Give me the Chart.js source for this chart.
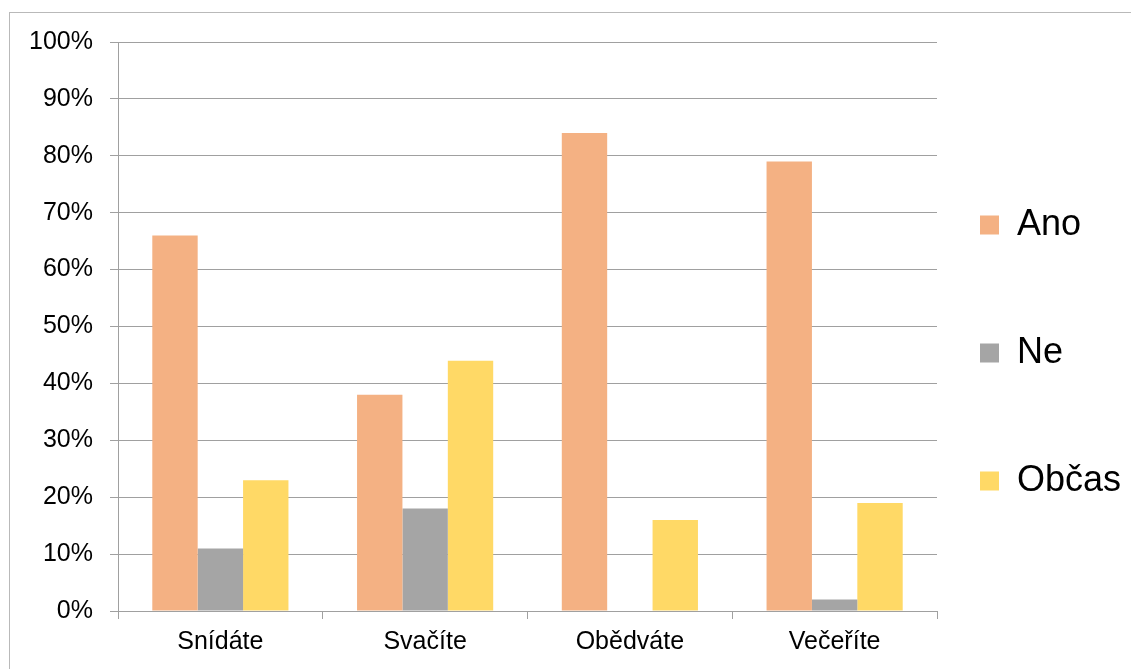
<!DOCTYPE html>
<html>
<head>
<meta charset="utf-8">
<script src="https://cdn.jsdelivr.net/npm/chart.js@4/dist/chart.umd.min.js"></script>
<style>
  html, body { margin: 0; padding: 0; background: #ffffff; overflow: hidden; }
  #wrap { position: relative; width: 1131px; height: 669px; overflow: hidden; }
  #frame { position: absolute; left: 9px; top: 12px; width: 1200px; height: 700px;
           border: 1px solid #b9b9b9; box-sizing: border-box; }
  #chart { position: absolute; left: 0; top: 0; }
</style>
</head>
<body>
<div id="wrap">
  <div id="frame"></div>
  <canvas id="chart" width="1200" height="669"></canvas>
</div>
<script>
// Survey: how often do people eat each meal (share of answers)
const categories = ['Snídáte', 'Svačíte', 'Obědváte', 'Večeříte'];
const seriesNames = ['Ano', 'Ne', 'Občas'];
const ano   = [66, 38, 84, 79];
const ne    = [11, 18, 0, 2];
const obcas = [23, 44, 16, 19];
const yTicks = [0, 10, 20, 30, 40, 50, 60, 70, 80, 90, 100];

const colors = ['#f4b183', '#a5a5a5', '#ffd966'];
const gridColor = '#a0a0a0';
const font = 'Liberation Sans, Arial, sans-serif';

const canvasWidth = 1200;
const plotRight = 937;
const legendFontSize = 36;
const legendBox = 19;
const legendPad = 92;

// Width the right-hand legend will claim, so the plot can end at plotRight.
const measureCtx = document.createElement('canvas').getContext('2d');
measureCtx.font = legendFontSize + 'px ' + font;
const widestLabel = Math.max(...seriesNames.map(s => measureCtx.measureText(s).width));
const legendWidth = legendPad + legendBox + legendFontSize / 2 + widestLabel + 10;
const rightPadding = canvasWidth - plotRight - legendWidth;

// Places the legend column to the right of the plot, centred on the middle entry.
const legendPlacement = {
  id: 'legendPlacement',
  afterLayout(chart) {
    const lg = chart.legend;
    if (!lg) return;
    const pad = lg.options.labels.padding;
    const dx = (980 - pad) - lg.left;
    const dy = 353 - (lg.top + lg.bottom) / 2;
    lg.left += dx; lg.right += dx;
    lg.top += dy; lg.bottom += dy;
  }
};

new Chart(document.getElementById('chart'), {
  type: 'bar',
  data: {
    labels: categories,
    datasets: [
      { label: seriesNames[0], data: ano,   backgroundColor: colors[0] },
      { label: seriesNames[1], data: ne,    backgroundColor: colors[1] },
      { label: seriesNames[2], data: obcas, backgroundColor: colors[2] }
    ]
  },
  options: {
    responsive: false,
    devicePixelRatio: 1,
    animation: false,
    layout: { padding: { left: 0, top: 42, right: rightPadding, bottom: 4 } },
    datasets: { bar: { categoryPercentage: 0.665, barPercentage: 1.0 } },
    plugins: {
      tooltip: { enabled: false },
      legend: {
        position: 'right',
        labels: {
          boxWidth: legendBox,
          boxHeight: legendBox,
          padding: legendPad,
          color: '#000000',
          font: { family: font, size: legendFontSize }
        }
      }
    },
    scales: {
      x: {
        offset: true,
        grid: {
          offset: true,
          drawOnChartArea: false,
          drawTicks: true,
          tickLength: 8,
          color: gridColor
        },
        border: { display: true, color: gridColor },
        ticks: {
          color: '#000000',
          padding: 8,
          font: { family: font, size: 25 }
        }
      },
      y: {
        min: 0,
        max: 100,
        afterBuildTicks(scale) {
          scale.ticks = yTicks.map(v => ({ value: v }));
        },
        afterFit(scale) { scale.width = 118; },
        grid: {
          color: gridColor,
          tickLength: 8,
          drawTicks: true
        },
        border: { display: true, color: gridColor },
        ticks: {
          color: '#000000',
          padding: 17,
          font: { family: font, size: 25 },
          callback: v => v + '%'
        }
      }
    }
  },
  plugins: [legendPlacement]
});
</script>
</body>
</html>
